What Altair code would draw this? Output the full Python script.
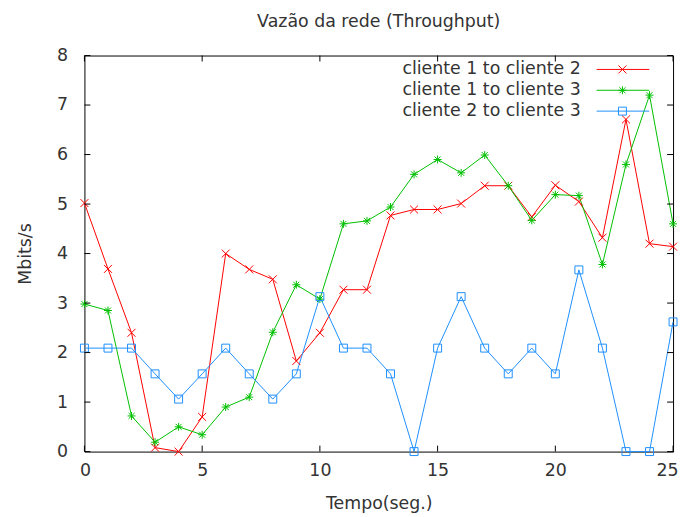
import altair as alt
import pandas as pd

tempo = list(range(26))
series_names = ["cliente 1 to cliente 2", "cliente 1 to cliente 3", "cliente 2 to cliente 3"]
c1_c2 = [5.02, 3.69, 2.40, 0.08, 0.0, 0.70, 4.00, 3.68, 3.48, 1.83, 2.40, 3.27, 3.27, 4.77, 4.89,
         4.89, 5.01, 5.37, 5.37, 4.74, 5.38, 5.05, 4.32, 6.71, 4.20, 4.14]
c1_c3 = [2.98, 2.85, 0.72, 0.19, 0.50, 0.34, 0.90, 1.10, 2.41, 3.37, 3.08, 4.60, 4.66, 4.94, 5.60,
         5.90, 5.63, 5.99, 5.37, 4.67, 5.19, 5.17, 3.78, 5.80, 7.20, 4.60]
c2_c3 = [2.09, 2.09, 2.09, 1.57, 1.06, 1.57, 2.09, 1.57, 1.06, 1.57, 3.13, 2.09, 2.09, 1.57, 0.0,
         2.09, 3.13, 2.09, 1.57, 2.09, 1.57, 3.67, 2.09, 0.0, 0.0, 2.62]
x_ticks = [0, 5, 10, 15, 20, 25]
y_ticks = [0, 1, 2, 3, 4, 5, 6, 7, 8]

colors = ["#ff0000", "#00c000", "#1e8fff"]
shapes = ["M-1,-1L1,1M-1,1L1,-1",
          "M-1,0L1,0M0,-1L0,1M-0.75,-0.75L0.75,0.75M-0.75,0.75L0.75,-0.75",
          "square"]

rows = []
for name, vals in zip(series_names, [c1_c2, c1_c3, c2_c3]):
    for t, v in zip(tempo, vals):
        rows.append({"t": t, "v": v, "serie": name})
df = pd.DataFrame(rows)

W, H = 593, 399
FONT = "DejaVu Sans"
FS = 17.5
TXT = "#333333"

xs = alt.Scale(domain=[0, 25], nice=False, zero=False)
ys = alt.Scale(domain=[0, 8], nice=False)
col = alt.Color("serie:N", scale=alt.Scale(domain=series_names, range=colors), legend=None)
shp = alt.Shape("serie:N", scale=alt.Scale(domain=series_names, range=shapes), legend=None)

base = alt.Chart(df)
lines = base.mark_line(strokeWidth=1).encode(
    x=alt.X("t:Q", scale=xs, axis=alt.Axis(values=x_ticks, ticks=False, domain=False, grid=False,
                                            title="Tempo(seg.)", labelPadding=10, titlePadding=16,
                                            labelFlush=True, labelFlushOffset=5,
                                            labelFontSize=FS, titleFontSize=FS, format="d")),
    y=alt.Y("v:Q", scale=ys, axis=alt.Axis(values=y_ticks, ticks=False, domain=False, grid=False,
                                            title="Mbits/s", labelPadding=17, titlePadding=22,
                                            labelFlush=False,
                                            labelFontSize=FS, titleFontSize=FS, format="d")),
    color=col, detail="serie:N",
)
points = base.mark_point(filled=False, strokeWidth=1, size=64, opacity=1).encode(
    x=alt.X("t:Q", scale=xs), y=alt.Y("v:Q", scale=ys), color=col, shape=shp,
)

xt = pd.DataFrame({"tick": x_ticks})
yt = pd.DataFrame({"tick": y_ticks})
xtick_b = alt.Chart(xt).mark_rule(color="#000", strokeWidth=1).encode(
    x=alt.X("tick:Q", scale=xs), y=alt.value(H), y2=alt.value(H - 6))
xtick_t = alt.Chart(xt).mark_rule(color="#000", strokeWidth=1).encode(
    x=alt.X("tick:Q", scale=xs), y=alt.value(0), y2=alt.value(6))
ytick_l = alt.Chart(yt).mark_rule(color="#000", strokeWidth=1).encode(
    y=alt.Y("tick:Q", scale=ys), x=alt.value(0), x2=alt.value(6))
ytick_r = alt.Chart(yt).mark_rule(color="#000", strokeWidth=1).encode(
    y=alt.Y("tick:Q", scale=ys), x=alt.value(W), x2=alt.value(W - 6))

leg = pd.DataFrame({"serie": series_names, "row": [0, 1, 2]})
lbase = alt.Chart(leg).transform_calculate(ly="14 + 21 * datum.row")
ltext = lbase.mark_text(align="right", baseline="middle", font=FONT, fontSize=FS, color=TXT).encode(
    x=alt.value(500), y=alt.Y("ly:Q", scale=None), text="serie:N")
lline = lbase.mark_rule(strokeWidth=1).encode(
    x=alt.value(516), x2=alt.value(569), y=alt.Y("ly:Q", scale=None), color=col)
lpt = lbase.mark_point(filled=False, strokeWidth=1, size=64, opacity=1).encode(
    x=alt.value(542), y=alt.Y("ly:Q", scale=None), color=col, shape=shp)

chart = alt.layer(lines, points, xtick_b, xtick_t, ytick_l, ytick_r, ltext, lline, lpt).properties(
    width=W, height=H,
    title=alt.TitleParams("Vazão da rede (Throughput)", font=FONT, fontSize=FS, fontWeight="normal",
                          color=TXT, offset=16),
    autosize=alt.AutoSizeParams(type="none"),
    padding={"left": 77, "top": 46, "right": 8, "bottom": 62},
).configure_view(stroke="#000", strokeWidth=1).configure_axis(
    labelFont=FONT, titleFont=FONT, labelColor=TXT, titleColor=TXT, titleFontWeight="normal"
)

chart.save("out.html", embed_options={"renderer": "svg", "actions": False})
